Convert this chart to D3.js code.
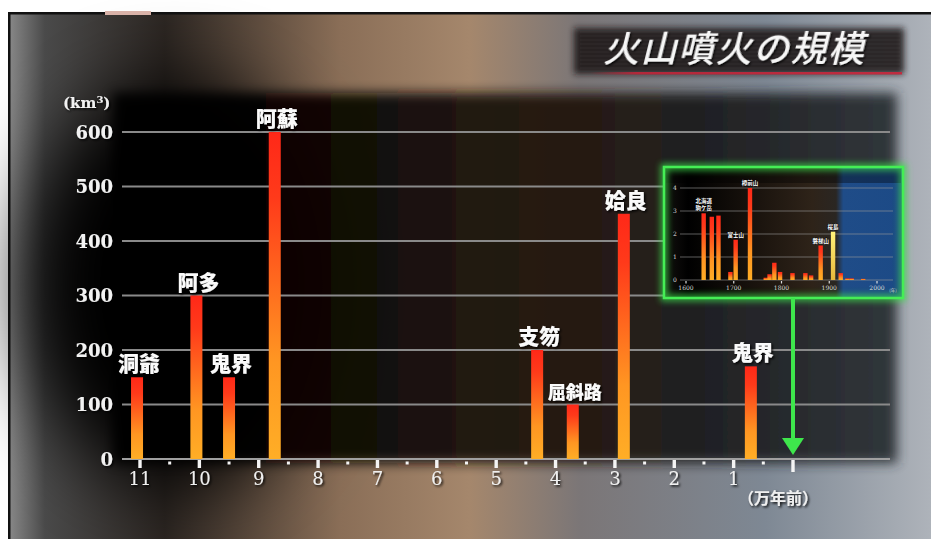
<!DOCTYPE html>
<html>
<head>
<meta charset="utf-8">
<script src="https://cdn.jsdelivr.net/npm/d3@7"></script>
<style>
  html, body { margin: 0; padding: 0; background: #fff; overflow: hidden; }
</style>
</head>
<body>
<svg id="chart" width="931" height="539"></svg>
<script>
// main chart data (万年前 / km3)
const names = ["洞爺", "阿多", "鬼界", "阿蘇", "支笏", "屈斜路", "姶良", "鬼界"];
const ages = [11.05, 10.05, 9.5, 8.73, 4.31, 3.71, 2.85, 0.71];
const volumes = [150, 300, 150, 600, 200, 100, 450, 170];
const yTicks = [0, 100, 200, 300, 400, 500, 600];
const xTicks = [11, 10, 9, 8, 7, 6, 5, 4, 3, 2, 1, 0];

// inset (last 400 years)
const insetYears = [1637, 1654, 1668, 1693, 1704, 1734, 1767, 1775, 1785, 1797, 1823, 1850, 1862, 1882, 1908, 1924, 1938, 1947, 1971];
const insetVolumes = [2.9, 2.75, 2.8, 0.35, 1.75, 4.0, 0.1, 0.25, 0.75, 0.35, 0.3, 0.3, 0.2, 1.5, 2.1, 0.3, 0.07, 0.07, 0.05];
const insetNames = ["北海道\n駒ケ岳", "", "", "", "富士山", "樽前山", "", "", "", "", "", "", "", "磐梯山", "桜島", "", "", "", ""];
const insetYTicks = [0, 1, 2, 3, 4];
const insetXTicks = [1600, 1700, 1800, 1900, 2000];

const svg = d3.select("#chart");
const defs = svg.append("defs");

function grad(id, stops, horizontal) {
    let g = defs.append("linearGradient").attr("id", id)
        .attr("x1", 0).attr("y1", 0)
        .attr("x2", horizontal ? 1 : 0).attr("y2", horizontal ? 0 : 1);
    stops.forEach(s => g.append("stop").attr("offset", s[0]).attr("stop-color", s[1]).attr("stop-opacity", s[2] == null ? 1 : s[2]));
}
function blur(id, sd) {
    defs.append("filter").attr("id", id)
        .attr("x", "-50%").attr("y", "-50%").attr("width", "200%").attr("height", "200%")
        .append("feGaussianBlur").attr("stdDeviation", sd);
}
grad("bgGrad", [[0, "#8a8a8a"], [0.04, "#4a4a4a"], [0.17, "#2c2622"], [0.36, "#8a6e57"], [0.5, "#a5876c"], [0.62, "#7b7677"], [0.82, "#7e8894"], [1, "#aeb3ba"]], true);
grad("plotGrad", [[0, "#000"], [0.3, "#0a0705"], [0.47, "#1e140c"], [0.6, "#22180f"], [0.76, "#1e1e20"], [1, "#2d3237"]], true);
grad("barGrad", [[0, "#ff2818"], [0.2, "#ff3a1a"], [0.7, "#ff9622"], [1, "#ffae26"]], false);
grad("yellowGrad", [[0, "#fff27a"], [1, "#e8b83a"]], false);
grad("insetBg", [[0, "#141210"], [0.1, "#000"], [0.4, "#1b140e"], [0.62, "#2e2319"], [0.72, "#2a2622"], [0.75, "#1f4c88"], [1, "#1c4a86"]], true);
grad("redLine", [[0, "#b3283a", 0], [0.15, "#b3283a"], [1, "#c02c40"]], true);
blur("b40", 40);
blur("b6", 6);
blur("b3", 3);
let sh = defs.append("filter").attr("id", "shadow").attr("x", "-20%").attr("y", "-20%").attr("width", "140%").attr("height", "140%");
sh.append("feDropShadow").attr("dx", 1.5).attr("dy", 1.5).attr("stdDeviation", 1).attr("flood-color", "#000").attr("flood-opacity", 0.9);

// background panel
svg.append("rect").attr("width", 931).attr("height", 539).attr("fill", "#fff");
const panel = svg.append("g");
panel.append("rect").attr("x", 8).attr("y", 12).attr("width", 923).attr("height", 527).attr("fill", "url(#bgGrad)");
panel.append("ellipse").attr("cx", 175).attr("cy", 285).attr("rx", 150).attr("ry", 200)
    .attr("fill", "#000").attr("filter", "url(#b40)");
panel.append("rect").attr("x", 113).attr("y", 93).attr("width", 784).attr("height", 370)
    .attr("fill", "url(#plotGrad)").attr("opacity", 0.96).attr("filter", "url(#b6)");
panel.append("rect").attr("x", 8).attr("y", 12).attr("width", 923).attr("height", 2.5).attr("fill", "#111");
panel.append("rect").attr("x", 8).attr("y", 12).attr("width", 2.5).attr("height", 527).attr("fill", "#111");
panel.append("rect").attr("x", 105).attr("y", 11).attr("width", 46).attr("height", 4).attr("fill", "#d9b2a8");

// title
const title = svg.append("g");
title.append("rect").attr("x", 574).attr("y", 28).attr("width", 330).attr("height", 46)
    .attr("fill", "#1c1418").attr("opacity", 0.88).attr("filter", "url(#b3)");
d3.range(32, 72, 4).forEach(y => title.append("line")
    .attr("x1", 580).attr("x2", 900).attr("y1", y).attr("y2", y)
    .attr("stroke", "#fff").attr("stroke-opacity", 0.05));
title.append("rect").attr("x", 590).attr("y", 72).attr("width", 312).attr("height", 2.5).attr("fill", "url(#redLine)");
title.append("text")
    .attr("transform", "translate(603,62) skewX(-14)")
    .attr("font-family", "Noto Sans CJK JP").attr("font-size", 36).attr("font-weight", 500)
    .attr("letter-spacing", 1.5)
    .attr("fill", "#f6f6f6").attr("filter", "url(#shadow)")
    .text("火山噴火の規模");

// scales
const x = d3.scaleLinear().domain([11, 0]).range([140, 793]);
const y = d3.scaleLinear().domain([0, 600]).range([459, 132]);
const plotRight = 890;

// grid + y labels
const grid = svg.append("g");
grid.selectAll("line").data(yTicks).enter().append("line")
    .attr("x1", 122).attr("x2", plotRight)
    .attr("y1", d => y(d)).attr("y2", d => y(d))
    .attr("stroke", d => d === 0 ? "#a0a0a0" : "#8a8a8a").attr("stroke-width", 2);
grid.selectAll("text").data(yTicks).enter().append("text")
    .attr("x", 113).attr("y", d => y(d) + 6.5)
    .attr("text-anchor", "end")
    .attr("font-family", "DejaVu Serif").attr("font-weight", "bold").attr("font-size", 18)
    .attr("fill", "#f2f2f2").attr("filter", "url(#shadow)")
    .text(d => d);
let unit = svg.append("text").attr("x", 63).attr("y", 108)
    .attr("font-family", "DejaVu Serif").attr("font-weight", "bold").attr("font-size", 15)
    .attr("fill", "#f2f2f2").attr("filter", "url(#shadow)");
unit.append("tspan").text("(km");
unit.append("tspan").attr("font-size", 10).attr("dy", -5).text("3");
unit.append("tspan").attr("dy", 5).text(")");

// x axis ticks
const axis = svg.append("g");
axis.selectAll("rect.major").data(xTicks).enter().append("rect").attr("class", "major")
    .attr("x", d => x(d) - 1.7).attr("y", 460).attr("width", 3.4).attr("height", d => d === 0 ? 12 : 8)
    .attr("fill", "#f4f4f4");
axis.selectAll("rect.minor").data(xTicks.slice(0, -1)).enter().append("rect").attr("class", "minor")
    .attr("x", d => x(d - 0.5) - 1.5).attr("y", 461.5).attr("width", 3).attr("height", 3)
    .attr("fill", "#f4f4f4");
axis.selectAll("text").data(xTicks.filter(d => d > 0)).enter().append("text")
    .attr("x", d => x(d)).attr("y", 485)
    .attr("text-anchor", "middle")
    .attr("font-family", "DejaVu Serif").attr("font-size", 18)
    .attr("fill", "#f0f0f0").attr("filter", "url(#shadow)")
    .text(d => d);
svg.append("text").attr("x", 778).attr("y", 504).attr("text-anchor", "middle")
    .attr("font-family", "Noto Sans CJK JP").attr("font-weight", 700).attr("font-size", 16)
    .attr("fill", "#f0f0f0").attr("filter", "url(#shadow)")
    .text("（万年前）");

// bars
const barW = 12;
const bars = svg.append("g");
bars.selectAll("rect").data(names).enter().append("rect")
    .attr("x", (d, i) => x(ages[i]) - barW / 2)
    .attr("y", (d, i) => y(volumes[i]))
    .attr("width", barW)
    .attr("height", (d, i) => y(0) - y(volumes[i]))
    .attr("fill", "url(#barGrad)");
bars.selectAll("text").data(names).enter().append("text")
    .attr("x", (d, i) => x(ages[i]) + 2)
    .attr("y", (d, i) => y(volumes[i]) - 6)
    .attr("text-anchor", "middle")
    .attr("font-family", "Noto Sans CJK JP").attr("font-weight", 900)
    .attr("font-size", d => d.length > 2 ? 18 : 21)
    .attr("fill", "#fafafa").attr("filter", "url(#shadow)")
    .text(d => d);

// inset
const ins = {x: 664, y: 167, w: 239, h: 131};
const ix = d3.scaleLinear().domain([1600, 2000]).range([686, 877]);
const iy = d3.scaleLinear().domain([0, 4]).range([280, 188]);
const inset = svg.append("g");
inset.append("rect").attr("x", ins.x).attr("y", ins.y).attr("width", ins.w).attr("height", ins.h)
    .attr("fill", "url(#insetBg)");
inset.append("rect").attr("x", ins.x + 2).attr("y", ins.y + 2).attr("width", ins.w - 4).attr("height", 14)
    .attr("fill", "#000").attr("opacity", 0.35);
inset.selectAll("line").data(insetYTicks).enter().append("line")
    .attr("x1", 680).attr("x2", 893)
    .attr("y1", d => iy(d)).attr("y2", d => iy(d))
    .attr("stroke", "#9a9a9a").attr("stroke-opacity", 0.6).attr("stroke-width", 1);
inset.selectAll("text.yl").data(insetYTicks).enter().append("text").attr("class", "yl")
    .attr("x", 675).attr("y", d => iy(d) + 2).attr("text-anchor", "middle")
    .attr("font-family", "DejaVu Serif").attr("font-size", 6).attr("fill", "#ddd")
    .text(d => d);
inset.selectAll("rect.xt").data(insetXTicks).enter().append("rect").attr("class", "xt")
    .attr("x", d => ix(d) - 0.6).attr("y", 281).attr("width", 1.2).attr("height", 2.5).attr("fill", "#ddd");
inset.selectAll("text.xl").data(insetXTicks).enter().append("text").attr("class", "xl")
    .attr("x", d => ix(d)).attr("y", 290).attr("text-anchor", "middle")
    .attr("font-family", "DejaVu Serif").attr("font-size", 6).attr("fill", "#ddd")
    .text(d => d);
inset.append("text").attr("x", 893).attr("y", 292).attr("text-anchor", "middle")
    .attr("font-family", "Noto Sans CJK JP").attr("font-size", 4.5).attr("fill", "#ddd").text("(年)");
inset.selectAll("rect.ib").data(insetYears).enter().append("rect").attr("class", "ib")
    .attr("x", d => ix(d) - 2.2)
    .attr("y", (d, i) => iy(insetVolumes[i]))
    .attr("width", 4.4)
    .attr("height", (d, i) => iy(0) - iy(insetVolumes[i]))
    .attr("fill", (d, i) => insetNames[i] === "桜島" ? "url(#yellowGrad)" : "url(#barGrad)");
insetNames.forEach((n, i) => {
    if (!n) return;
    n.split("\n").forEach((line, k, arr) => inset.append("text")
        .attr("x", ix(insetYears[i]))
        .attr("y", iy(insetVolumes[i]) - 3 - (arr.length - 1 - k) * 7)
        .attr("text-anchor", "middle")
        .attr("font-family", "Noto Sans CJK JP").attr("font-weight", 700).attr("font-size", 5.5)
        .attr("fill", "#fff").attr("stroke", "#000").attr("stroke-width", 0.6).attr("paint-order", "stroke")
        .text(line));
});
inset.append("rect").attr("x", ins.x).attr("y", ins.y).attr("width", ins.w).attr("height", ins.h)
    .attr("fill", "none").attr("stroke", "#3ee64c").attr("stroke-width", 7).attr("opacity", 0.7).attr("filter", "url(#b3)");
inset.append("rect").attr("x", ins.x).attr("y", ins.y).attr("width", ins.w).attr("height", ins.h)
    .attr("fill", "none").attr("stroke", "#45ee55").attr("stroke-width", 2.5);

// green arrow to "now"
const ax = x(0);
const arrow = svg.append("g").attr("fill", "#3ee64c");
arrow.append("rect").attr("x", ax - 2).attr("y", ins.y + ins.h).attr("width", 4).attr("height", 438 - ins.y - ins.h);
arrow.append("path").attr("d", `M${ax - 11},438 L${ax + 11},438 L${ax},455 Z`);
</script>
</body>
</html>
